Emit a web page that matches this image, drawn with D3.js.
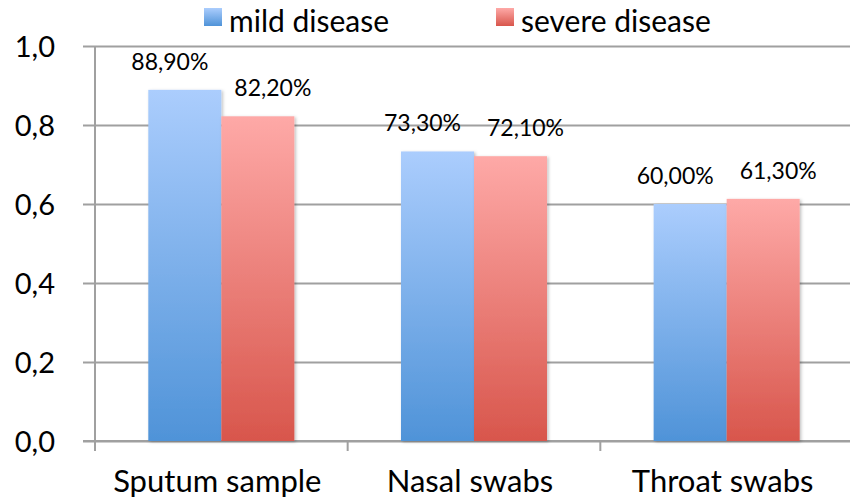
<!DOCTYPE html>
<html>
<head>
<meta charset="utf-8">
<script src="https://cdn.jsdelivr.net/npm/d3@7"></script>
<style>
  html, body { margin: 0; padding: 0; background: #fff; }
  svg { display: block; }
  text { font-family: Lato, "Open Sans", sans-serif; fill: #000; }
</style>
</head>
<body>
<svg id="chart" width="850" height="500"></svg>
<script>
const categories = ["Sputum sample", "Nasal swabs", "Throat swabs"];
const seriesNames = ["mild disease", "severe disease"];
const mildValues = [0.889, 0.733, 0.600];
const severeValues = [0.822, 0.721, 0.613];
const yTicks = [0, 0.2, 0.4, 0.6, 0.8, 1.0];

(function () {
const svg = d3.select("#chart");
const W = 850, H = 500;
const mLeft = 95, mRight = 853, mTop = 46, mBottom = 441;

const x = d3.scaleBand().domain(categories).range([mLeft, mRight]).paddingInner(0).paddingOuter(0);
const xs = d3.scaleBand().domain(seriesNames).range([0, x.bandwidth()]).paddingInner(0).paddingOuter(0.73);
const y = d3.scaleLinear().domain([0, 1]).range([mBottom, mTop]);

const defs = svg.append("defs");
const gradStops = {
  "mild disease": ["#abcdfd", "#4f93d8"],
  "severe disease": ["#fea9a7", "#d8564c"]
};
seriesNames.forEach((s, i) => {
  const g = defs.append("linearGradient").attr("id", "grad" + i)
    .attr("x1", 0).attr("y1", 0).attr("x2", 0).attr("y2", 1);
  g.append("stop").attr("offset", "0%").attr("stop-color", gradStops[s][0]);
  g.append("stop").attr("offset", "100%").attr("stop-color", gradStops[s][1]);
});
const f = defs.append("filter").attr("id", "shadow").attr("x", "-10%").attr("y", "-10%").attr("width", "130%").attr("height", "130%");
f.append("feDropShadow").attr("dx", 1.5).attr("dy", 1).attr("stdDeviation", 1.5).attr("flood-color", "#000").attr("flood-opacity", 0.25);

const fmtComma = (s) => s.replace(".", ",");

// gridlines + y axis
const yAxis = d3.axisLeft(y).tickValues(yTicks).tickSize(12).tickPadding(28)
  .tickFormat(d => fmtComma(d3.format(".1f")(d)));
const gy = svg.append("g").attr("transform", `translate(${mLeft},0)`).call(yAxis);
gy.select(".domain").attr("stroke", "#a0a0a0").attr("stroke-width", 2)
  .attr("d", `M0,${mTop}V${mBottom}`);
gy.selectAll(".tick line").attr("stroke", "#a0a0a0").attr("stroke-width", 2)
  .attr("x1", -12).attr("x2", W - mLeft);
gy.selectAll(".tick text").style("font-size", "29px").attr("fill", "#000").attr("dy", "0.35em");

// x axis
const boundaries = [mLeft].concat(categories.map(c => x(c) + x.bandwidth()));
const gx = svg.append("g");
gx.append("line").attr("x1", mLeft - 12).attr("x2", W).attr("y1", mBottom).attr("y2", mBottom)
  .attr("stroke", "#a0a0a0").attr("stroke-width", 2);
gx.selectAll("line.tk").data(boundaries).join("line").attr("class", "tk")
  .attr("x1", d => d).attr("x2", d => d).attr("y1", mBottom).attr("y2", mBottom + 10)
  .attr("stroke", "#a0a0a0").attr("stroke-width", 2);
gx.selectAll("text.cat").data(categories).join("text").attr("class", "cat")
  .attr("x", d => x(d) + x.bandwidth() / 2 - 4).attr("y", 492)
  .attr("text-anchor", "middle").style("font-size", "31px").text(d => d);

// bars
const rows = categories.map((c, i) => ({ cat: c, vals: [mildValues[i], severeValues[i]] }));
const groups = svg.append("g").selectAll("g").data(rows).join("g")
  .attr("transform", d => `translate(${x(d.cat)},0)`);
groups.selectAll("rect").data(d => d.vals.map((v, i) => ({ s: seriesNames[i], i, v })))
  .join("rect")
  .attr("x", d => xs(d.s)).attr("width", xs.bandwidth())
  .attr("y", d => y(d.v)).attr("height", d => mBottom - y(d.v))
  .attr("fill", d => `url(#grad${d.i})`).attr("filter", "url(#shadow)");

// data labels
groups.selectAll("text").data(d => d.vals.map((v, i) => ({ s: seriesNames[i], i, v })))
  .join("text")
  .attr("x", d => xs(d.s) + xs.bandwidth() / 2 + (d.i === 0 ? -15 : 15))
  .attr("y", d => y(d.v) - 20)
  .attr("text-anchor", "middle").style("font-size", "23px")
  .text(d => fmtComma((d.v * 100).toFixed(2)) + "%");

// legend
const legendX = [204, 496];
const lg = svg.append("g").selectAll("g").data(seriesNames).join("g")
  .attr("transform", (d, i) => `translate(${legendX[i]},8)`);
lg.append("rect").attr("width", 18).attr("height", 18).attr("fill", (d, i) => `url(#grad${i})`);
lg.append("text").attr("x", 25).attr("y", 24).style("font-size", "30px").text(d => d);
})();
</script>
</body>
</html>
